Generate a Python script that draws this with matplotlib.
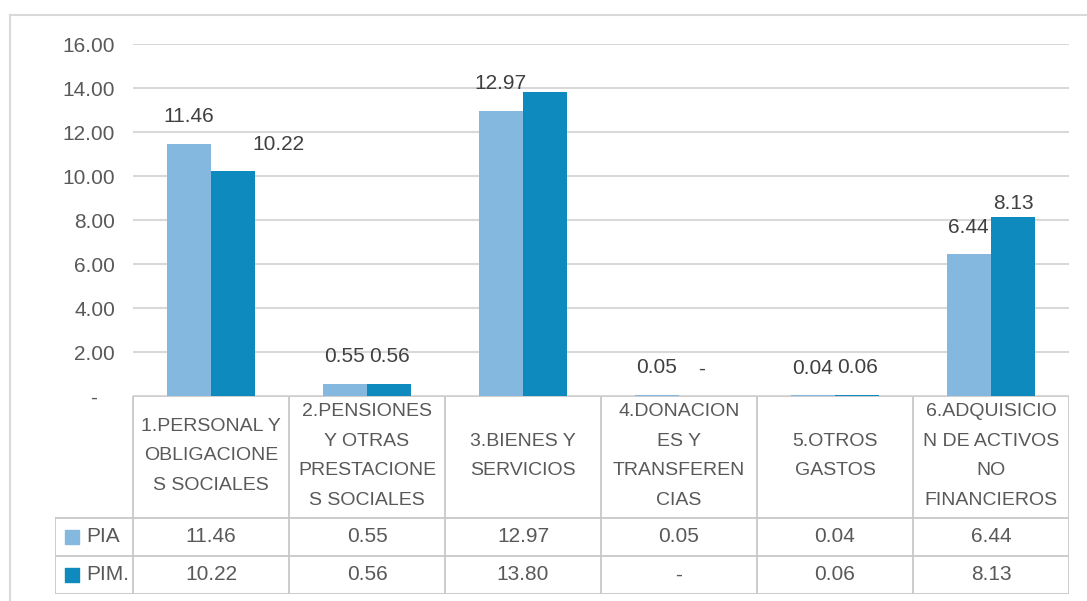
import matplotlib
matplotlib.use("Agg")
import matplotlib.pyplot as plt
from matplotlib.lines import Line2D

plt.rcParams['font.family'] = ['Liberation Sans', 'DejaVu Sans']

categorias = [
    "1.PERSONAL Y\nOBLIGACIONE\nS SOCIALES",
    "2.PENSIONES\nY OTRAS\nPRESTACIONE\nS SOCIALES",
    "3.BIENES Y\nSERVICIOS",
    "4.DONACION\nES Y\nTRANSFEREN\nCIAS",
    "5.OTROS\nGASTOS",
    "6.ADQUISICIO\nN DE ACTIVOS\nNO\nFINANCIEROS",
]
pia = [11.46, 0.55, 12.97, 0.05, 0.04, 6.44]
pim = [10.22, 0.56, 13.80, 0.00, 0.06, 8.13]
series = ["PIA", "PIM."]
yticks = [0, 2, 4, 6, 8, 10, 12, 14, 16]

c_pia = "#85b8de"
c_pim = "#0e8abe"
grid_c = "#d9d9d9"
border_c = "#c8c8c8"
txt_c = "#595959"
lbl_c = "#404040"
fs = 15

W, H = 1087, 601
fig = plt.figure(figsize=(W / 100, H / 100), dpi=100)

def fx(px):
    return px / W

def fy(py):
    return 1 - py / H

# outer frame of the chart
fig.add_artist(Line2D([fx(10), 1], [fy(15), fy(15)], color=grid_c, lw=1.5))
fig.add_artist(Line2D([fx(10), fx(10)], [fy(15), 0], color=grid_c, lw=1.5))

ax = fig.add_axes([fx(133), fy(396), fx(1069) - fx(133), fy(44) - fy(396)])
n = len(categorias)
x = list(range(n))
bw = 0.285
ax.bar([i - bw / 2 for i in x], pia, bw, color=c_pia, zorder=3)
ax.bar([i + bw / 2 for i in x], pim, bw, color=c_pim, zorder=3)
ax.set_xlim(-0.5, n - 0.5)
ax.set_ylim(0, 16)
ax.set_yticks(yticks)
ax.set_yticklabels(["-   " if v == 0 else "%.2f" % v for v in yticks],
                   fontsize=fs, color=txt_c)
ax.tick_params(axis="y", length=0, pad=13)
ax.set_xticks([])
for s in ax.spines.values():
    s.set_visible(False)
ax.grid(axis="y", color=grid_c, lw=1.5, zorder=0)
ax.set_axisbelow(True)

# data labels (Excel-like placement quirks)
def lbl(v):
    return "-" if v == 0 else "%.2f" % v

for i in x:
    ax.annotate(lbl(pia[i]), (i - bw / 2, pia[i]), xytext=(0, 27),
                textcoords="offset pixels", ha="center", va="center",
                fontsize=fs, color=lbl_c, zorder=4)
    if i == 2:
        continue  # label hidden behind the bar in the original
    dx, dy = 0, 27
    if i == 0:
        dx = 45
    if i == 5:
        dy = 14
    ax.annotate(lbl(pim[i]), (i + bw / 2, pim[i]), xytext=(dx, dy),
                textcoords="offset pixels", ha="center", va="center",
                fontsize=fs, color=lbl_c, zorder=4)

# data table below the plot
tab = fig.add_axes([fx(55), fy(594), fx(1069) - fx(55), fy(396) - fy(594)])
tab.set_xlim(-1.0, n - 0.5)
tab.set_ylim(198, 0)
tab.axis("off")
lw = 1.3
tab.plot([-0.5, n - 0.5], [0, 0], color=border_c, lw=lw)
for yy in (122, 160, 198):
    tab.plot([-1.0, n - 0.5], [yy, yy], color=border_c, lw=lw)
for k in range(n + 1):
    tab.plot([k - 0.5, k - 0.5], [0, 198], color=border_c, lw=lw)
tab.plot([-1.0, -1.0], [122, 198], color=border_c, lw=lw)

for i in x:
    tab.text(i, 60, categorias[i], ha="center", va="center", fontsize=14,
             color=txt_c, linespacing=1.95)
    tab.text(i, 141, lbl(pia[i]), ha="center", va="center", fontsize=fs, color=txt_c)
    tab.text(i, 179, lbl(pim[i]), ha="center", va="center", fontsize=fs, color=txt_c)

for r, (name, col) in enumerate(zip(series, [c_pia, c_pim])):
    yc = 141 + 38 * r
    tab.scatter([-0.89], [yc], marker="s", s=110, color=col)
    tab.text(-0.8, yc, name, ha="left", va="center", fontsize=fs, color=txt_c)

fig.savefig("out.png", dpi=100, facecolor="white")
